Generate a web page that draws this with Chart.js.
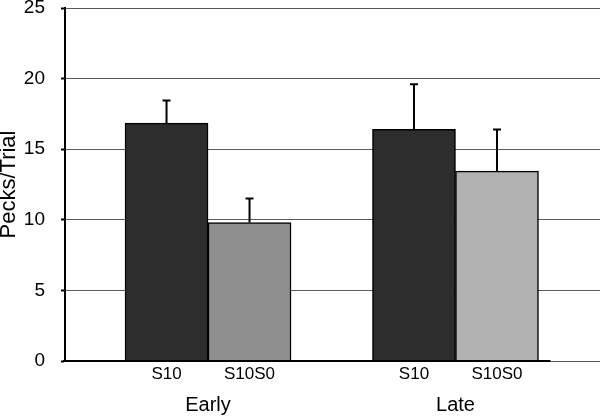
<!DOCTYPE html>
<html>
<head>
<meta charset="utf-8">
<script src="https://cdn.jsdelivr.net/npm/chart.js@4/dist/chart.umd.min.js"></script>
<style>
  html, body { margin: 0; padding: 0; background: #fff; overflow: hidden; }
  canvas { display: block; }
</style>
</head>
<body>
<canvas id="chart" width="600" height="418"></canvas>
<script>
// data
const groups = ['Early', 'Late'];
const groupPositions = [1, 2];
const seriesNames = ['S10', 'S10S0'];
const s10Means = [16.85, 16.4];
const s10Errors = [1.6, 3.2];
const s10s0Means = [9.8, 13.45];
const s10s0Errors = [1.7, 2.95];
const yTicks = [0, 5, 10, 15, 20, 25];

const FONT = "'Liberation Sans', Arial, sans-serif";

const toPoints = (vals) => vals.map((v, i) => ({ x: groupPositions[i], y: v }));

// error bars + bar names + baseline
const extras = {
  id: 'extras',
  afterDatasetsDraw(chart) {
    const ctx = chart.ctx;
    const y = chart.scales.y;
    const errs = [s10Errors, s10s0Errors];
    ctx.save();
    chart.data.datasets.forEach((ds, di) => {
      const meta = chart.getDatasetMeta(di);
      meta.data.forEach((bar, i) => {
        const top = y.getPixelForValue(ds.data[i].y + errs[di][i]);
        ctx.strokeStyle = '#000';
        ctx.lineWidth = 2;
        ctx.beginPath();
        ctx.moveTo(bar.x, bar.y);
        ctx.lineTo(bar.x, top);
        ctx.moveTo(bar.x - 4, top);
        ctx.lineTo(bar.x + 4, top);
        ctx.stroke();

        ctx.fillStyle = '#000';
        ctx.font = '17px ' + FONT;
        ctx.textAlign = 'center';
        ctx.textBaseline = 'middle';
        ctx.fillText(ds.label, bar.x, y.getPixelForValue(0) + 13);
      });
    });
    // black x axis line, stops a bit past the last bar
    const last = chart.getDatasetMeta(1).data[1];
    const y0 = y.getPixelForValue(0);
    ctx.strokeStyle = '#000';
    ctx.lineWidth = 2;
    ctx.beginPath();
    ctx.moveTo(chart.chartArea.left - 2, y0);
    ctx.lineTo(last.x + last.width / 2 + 12, y0);
    ctx.stroke();
    ctx.restore();
  }
};

new Chart(document.getElementById('chart'), {
  type: 'bar',
  data: {
    datasets: [
      {
        label: seriesNames[0],
        data: toPoints(s10Means),
        backgroundColor: '#2d2d2d',
        borderColor: '#000',
        borderWidth: 1.5
      },
      {
        label: seriesNames[1],
        data: toPoints(s10s0Means),
        backgroundColor: ['#8f8f8f', '#b1b1b1'],
        borderColor: '#000',
        borderWidth: 1.5
      }
    ]
  },
  options: {
    responsive: false,
    animation: false,
    devicePixelRatio: 1,
    barThickness: 83,
    layout: { padding: 0 },
    plugins: {
      legend: { display: false },
      tooltip: { enabled: false }
    },
    scales: {
      x: {
        type: 'linear',
        offset: false,
        min: 0.422,
        max: 2.584,
        grid: { display: false, drawTicks: false },
        border: { display: false },
        afterBuildTicks: (axis) => { axis.ticks = groupPositions.map(v => ({ value: v })); },
        afterFit: (axis) => {
          axis.height = 57;
          axis.paddingLeft = 0;
          axis.paddingRight = 0;
        },
        ticks: {
          autoSkip: false,
          maxRotation: 0,
          padding: 32,
          color: '#000',
          font: { family: FONT, size: 20 },
          callback: (v) => groups[groupPositions.indexOf(v)] || ''
        }
      },
      y: {
        min: 0,
        max: 25,
        afterBuildTicks: (axis) => { axis.ticks = yTicks.map(v => ({ value: v })); },
        afterFit: (axis) => {
          axis.width = 65;
          axis.paddingTop = 8;
          axis.paddingBottom = 0;
        },
        grid: {
          color: '#5a5a5a',
          lineWidth: 1,
          tickColor: '#000',
          tickLength: 4,
          tickWidth: 2
        },
        border: { display: true, color: '#000', width: 2 },
        ticks: {
          padding: 16,
          color: '#000',
          font: { family: FONT, size: 19 }
        },
        title: {
          display: true,
          text: 'Pecks/Trial',
          color: '#000',
          padding: { top: 0, bottom: 0 },
          font: { family: FONT, size: 22, lineHeight: 0.8 }
        }
      }
    }
  },
  plugins: [extras]
});
</script>
</body>
</html>
